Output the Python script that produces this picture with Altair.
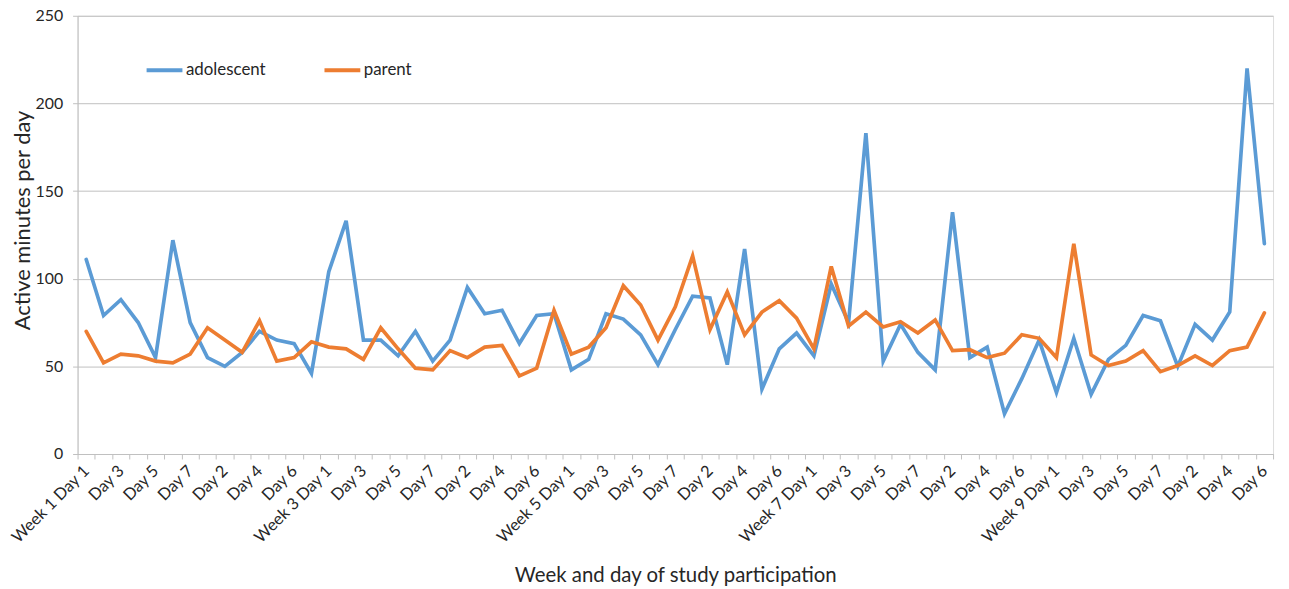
import altair as alt
import pandas as pd

# Category labels: weeks 1-10, days 1-7 (week 10 only up to day 6)
categories = []
for w in range(1, 11):
    for d in range(1, 8):
        if w == 10 and d == 7:
            break
        categories.append(f"Week {w} Day 1" if d == 1 else f"Day {d}")

adolescent = [111, 79, 88, 75, 55, 122, 75, 55, 50, 58, 70, 65,
              63, 46, 104, 133, 65, 65, 56, 70, 53, 65, 95, 80,
              82, 63, 79, 80, 48, 54, 80, 77, 68, 51, 71, 90,
              89, 51, 117, 37, 60, 69, 56, 97, 75, 183, 53, 74,
              58, 48, 138, 55, 61, 23, 43, 65, 35, 66, 34, 54,
              62, 79, 76, 50, 74, 65, 81, 220, 120]

parent = [70, 52, 57, 56, 53, 52, 57, 72, 65, 58, 76, 53,
          55, 64, 61, 60, 54, 72, 60, 49, 48, 59, 55, 61,
          62, 44.6, 49, 82, 57, 61, 72, 96, 85, 65, 84, 113,
          71, 92.5, 68, 81, 87.5, 77.5, 60, 107, 73, 81, 72.5, 75.5,
          69, 76.5, 59, 59.5, 55, 57.5, 68, 66, 55, 120, 56.5, 50.5,
          53, 59, 47, 50.5, 56, 50.5, 59, 61, 80.5]

series_names = ["adolescent", "parent"]
series_colors = ["#5B9BD5", "#ED7D31"]

rows = []
for name, vals in zip(series_names, [adolescent, parent]):
    for i, v in enumerate(vals):
        rows.append({"pos": i + 0.5, "series": name, "value": v})
df = pd.DataFrame(rows)

n = len(categories)
label_positions = [i + 0.5 for i in range(0, n, 2)]
tick_positions = list(range(n + 1))
labels_js = "[" + ",".join('"' + c + '"' for c in categories) + "]"

FONT = "Lato"
TXT = "#262626"
GRID = "#bfbfbf"

xscale = alt.Scale(domain=[0, n], nice=False, zero=False)
yscale = alt.Scale(domain=[0, 250], nice=False)

lines = alt.Chart(df).mark_line(strokeWidth=3.7, strokeCap="round").encode(
    x=alt.X("pos:Q", scale=xscale,
            axis=alt.Axis(values=label_positions,
                          labelExpr=labels_js + "[floor(datum.value)]",
                          labelAngle=-45, labelAlign="right", labelBaseline="middle",
                          labelPadding=14, ticks=False, tickSize=0, grid=False,
                          domainColor=GRID, domainWidth=1,
                          labelFont=FONT, labelFontSize=16.5, labelColor=TXT,
                          labelOverlap=False, labelFlush=False,
                          title="Week and day of study participation",
                          titleFont=FONT, titleFontSize=20.5, titleFontWeight="normal",
                          titleColor=TXT, titleX=601.5, titleY=122,
                          titleBaseline="middle", titleAlign="center",
                          orient="bottom")),
    y=alt.Y("value:Q", scale=yscale,
            axis=alt.Axis(values=[0, 50, 100, 150, 200, 250],
                          grid=True, gridColor=GRID, gridWidth=1,
                          domainColor=GRID, tickColor=GRID, tickSize=5,
                          labelPadding=10, labelFont=FONT, labelFontSize=16,
                          labelColor=TXT,
                          title="Active minutes per day",
                          titleFont=FONT, titleFontSize=22, titleFontWeight="normal",
                          titleColor=TXT, titleX=-55, titleY=205.5,
                          titleBaseline="middle", titleAlign="center")),
    color=alt.Color("series:N",
                    scale=alt.Scale(domain=series_names, range=series_colors),
                    legend=alt.Legend(title=None, orient="none", legendX=67, legendY=34,
                                      direction="horizontal", symbolType="stroke",
                                      symbolSize=1300, symbolStrokeWidth=4,
                                      labelFont=FONT, labelFontSize=17,
                                      labelColor=TXT, labelOffset=1,
                                      columnPadding=50)),
)

ticks_layer = alt.Chart(df).mark_point(opacity=0).encode(
    x=alt.X("pos:Q", scale=xscale,
            axis=alt.Axis(values=tick_positions, labels=False, ticks=True,
                          tickSize=5, tickColor=GRID, domain=False, grid=False,
                          title=None, orient="bottom")),
    y=alt.Y("value:Q", scale=yscale),
)

chart = alt.layer(lines, ticks_layer).resolve_axis(x="independent").properties(
    width=1203, height=441,
    autosize=alt.AutoSizeParams(type="none"),
    padding={"left": 70, "top": 6, "right": 8, "bottom": 132},
).configure_view(stroke=None).configure(background="white")

chart.save("out.html", embed_options={"renderer": "svg", "actions": False})
